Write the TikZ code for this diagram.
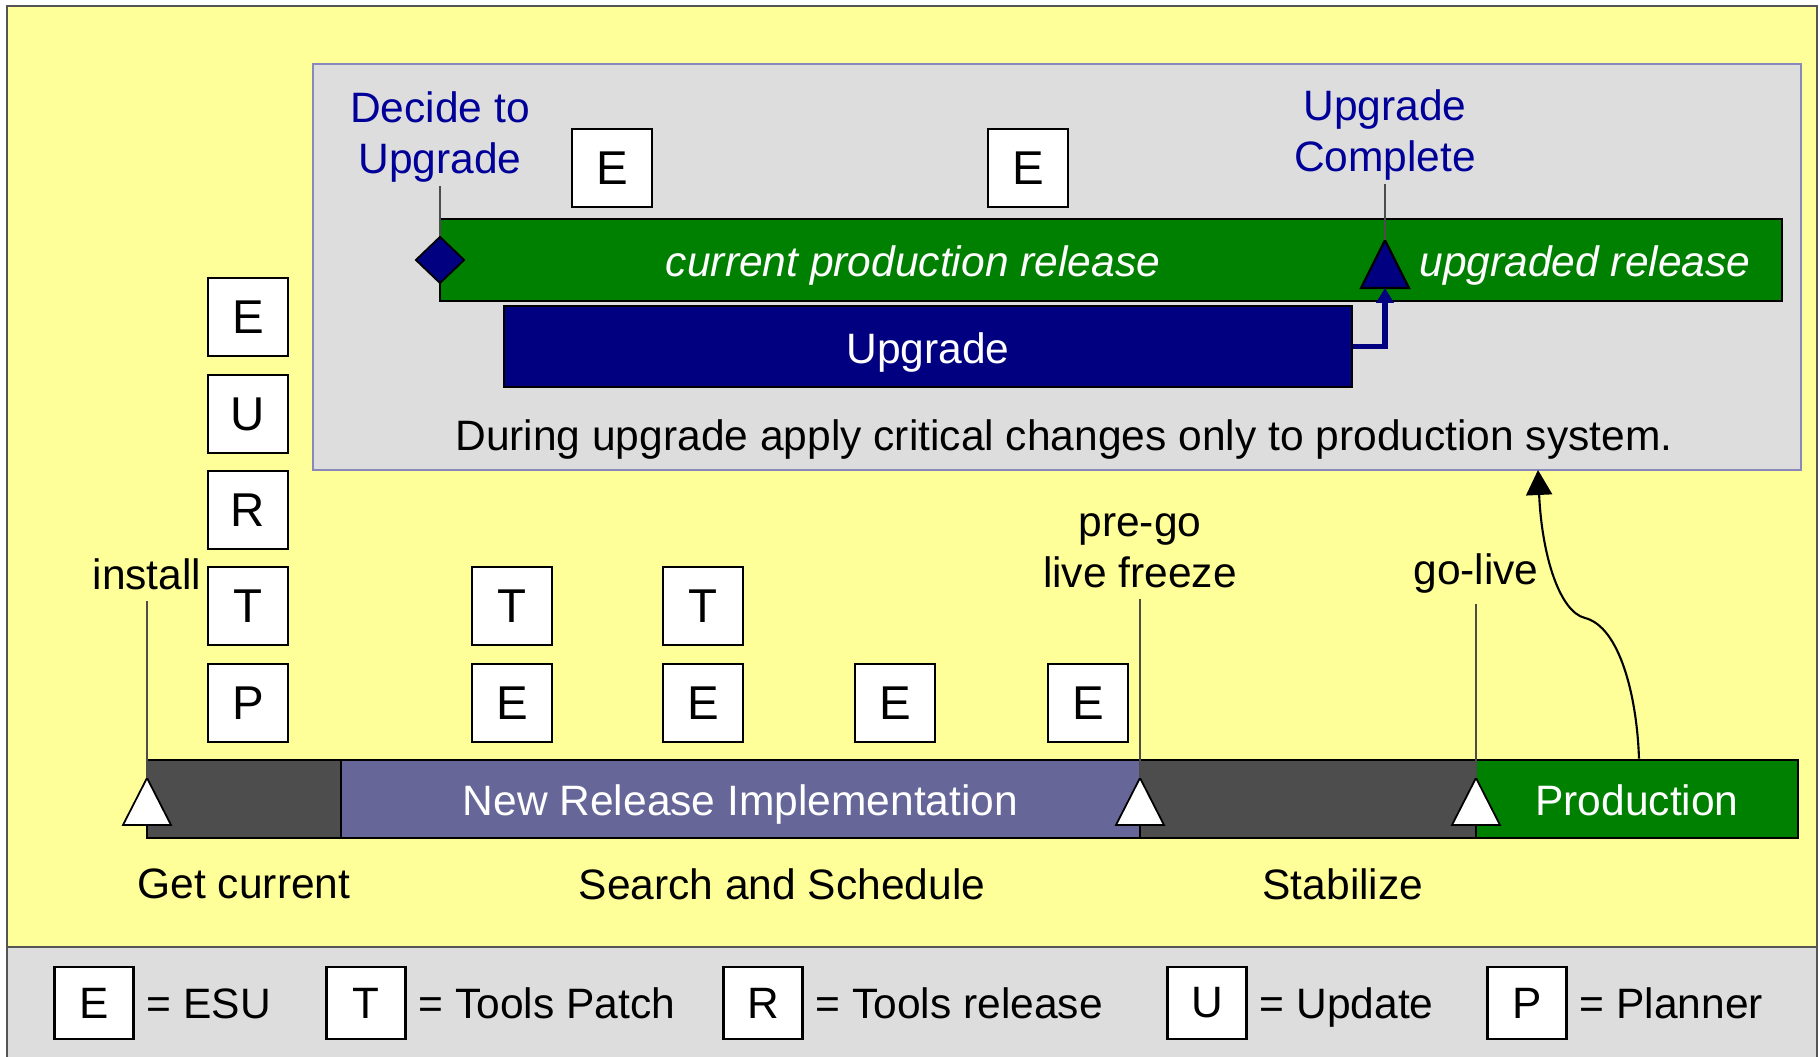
\documentclass[tikz,border=0pt]{standalone}
\usepackage{fontspec}
\setmainfont{Liberation Sans}
\usetikzlibrary{shapes.geometric,arrows.meta,positioning}

\definecolor{bgyellow}{HTML}{FFFF99}
\definecolor{panelgray}{HTML}{DDDDDD}
\definecolor{relgreen}{HTML}{008000}
\definecolor{upnavy}{HTML}{000080}
\definecolor{labelblue}{HTML}{000099}
\definecolor{phasegray}{HTML}{4D4D4D}
\definecolor{implpurple}{HTML}{666699}
\definecolor{panelframe}{HTML}{8888BB}
\definecolor{outerframe}{HTML}{555555}

\tikzset{
  patchbox/.style={draw=black, line width=0.6pt, fill=white, inner sep=0pt,
    minimum width=0.8cm, minimum height=0.78cm, font=\fontsize{13.5}{16}\selectfont},
  keybox/.style={patchbox, minimum width=0.79cm, minimum height=0.72cm,
    font=\fontsize{12.5}{15}\selectfont},
  bar/.style={draw=black, line width=0.8pt, inner sep=0pt, text=white,
    text height=0.34cm, text depth=0pt},
  bartext/.style={text=white, inner sep=0pt, text height=0.34cm, text depth=0pt,
    font=\fontsize{12.1}{14.6}\selectfont\itshape},
  keytext/.style={inner sep=0pt, text height=0.31cm, text depth=0pt},
  tick/.style={draw=black!70, line width=0.45pt},
  flag/.style={draw=black, line width=0.5pt, fill=white},
}

\begin{document}
\begin{tikzpicture}[font=\fontsize{12.1}{14.6}\selectfont]
    \useasboundingbox (0,0) rectangle (18.2,10.57);
    % background and legend strip
    \fill[bgyellow] (0.07,1.10) rectangle (18.17,10.51);
    \fill[panelgray] (0.07,0) rectangle (18.17,1.10);
    \draw[outerframe, line width=0.7pt] (0.07,0) |- (18.17,10.51) -- (18.17,0);
    \draw[outerframe, line width=0.7pt] (0.07,1.10) -- (18.17,1.10);

    % upgrade panel
    \filldraw[fill=panelgray, draw=panelframe, line width=0.5pt] (3.13,5.87) rectangle (18.01,9.93);
    \node[bar, fill=relgreen, minimum width=13.42cm, minimum height=0.82cm] (release) at (11.11,7.97) {};
    \node[bartext] (curtext) at (9.13,7.97) {current production release};
    \node[bartext] (newtext) at (15.85,7.97) {upgraded release};
    \node[bar, fill=upnavy, minimum width=8.48cm, minimum height=0.81cm] (upbar) at (9.28,7.105) {Upgrade};

    \node[diamond, draw=black, line width=0.5pt, fill=upnavy, inner sep=0pt,
          minimum width=0.49cm, minimum height=0.47cm] (decidemark) at (4.40,7.97) {};
    \node[labelblue, align=center, anchor=south, inner sep=0.03cm] (decide) at (4.40,8.71) {Decide to\\Upgrade};
    \draw[tick] (decide.south) -- (decidemark.north);

    \coordinate (doneapex) at (13.85,8.17);
    \coordinate (donebase) at (13.85,7.69);
    \filldraw[fill=upnavy, draw=black, line width=0.6pt] (doneapex) -- ++(0.24,-0.48) -- ++(-0.48,0) -- cycle;
    \node[labelblue, align=center, anchor=south, inner sep=0.03cm] (done) at (13.85,8.73) {Upgrade\\Complete};
    \draw[tick] (done.south) -- (doneapex);
    \draw[upnavy, line width=1.6pt, -{Triangle[length=0.15cm,width=0.17cm]}] (upbar.east) -| (donebase);

    \node[patchbox] (esuA) at (6.12,8.89) {E};
    \node[patchbox] (esuB) at (10.28,8.89) {E};
    \node (rule) at (10.64,6.17) {During upgrade apply critical changes only to production system.};

    % release timeline
    \node[bar, fill=phasegray, minimum width=1.94cm, minimum height=0.78cm] (getcur) at (2.44,2.58) {};
    \node[bar, fill=implpurple, minimum width=7.99cm, minimum height=0.78cm] (impl) at (7.405,2.58) {New Release Implementation};
    \node[bar, fill=phasegray, minimum width=3.36cm, minimum height=0.78cm] (stab) at (13.08,2.58) {};
    \node[bar, fill=relgreen, minimum width=3.22cm, minimum height=0.78cm] (prod) at (16.37,2.58) {Production};

    \foreach \x/\name in {1.47/install, 11.40/freeze, 14.76/golive} {
        \coordinate (\name apex) at (\x,2.79);
        \filldraw[flag] (\name apex) -- ++(0.24,-0.47) -- ++(-0.48,0) -- cycle;
    }
    \node[anchor=south, inner sep=0.1cm] (install) at (1.47,4.56) {install};
    \node[anchor=south, inner sep=0.1cm, align=center] (freeze) at (11.40,4.58) {pre-go\\live freeze};
    \node[anchor=south, inner sep=0.1cm] (golive) at (14.76,4.53) {go-live};
    \draw[tick] (install.south) -- (installapex);
    \draw[tick] (freeze.south) -- (freezeapex);
    \draw[tick] (golive.south) -- (goliveapex);

    \node (getlbl) at (2.44,1.73) {Get current};
    \node (searchlbl) at (7.82,1.73) {Search and Schedule};
    \node (stablbl) at (13.43,1.73) {Stabilize};

    % patches during the project
    \foreach \y/\letter [count=\i] in {7.40/E, 6.43/U, 5.47/R, 4.51/T, 3.54/P}
        \node[patchbox] (col\i) at (2.48,\y) {\letter};
    \node[patchbox] (toolsA) at (5.12,4.51) {T};
    \node[patchbox] (toolsB) at (7.03,4.51) {T};
    \foreach \x [count=\i] in {5.12, 7.03, 8.95, 10.88}
        \node[patchbox] (esu\i) at (\x,3.54) {E};

    \coordinate (panelfoot) at (15.38,5.87);
    \draw[line width=0.6pt, -{Triangle[length=0.25cm,width=0.26cm]}]
        ([xshift=0.02cm]prod.north) .. controls (16.37,3.6) and (16.2,4.3) .. (15.85,4.39)
        .. controls (15.6,4.45) and (15.42,5.0) .. (panelfoot);

    % legend
    \node[keybox] (keyE) at (0.94,0.54) {E};
    \node[keybox] (keyT) at (3.66,0.54) {T};
    \node[keybox] (keyR) at (7.63,0.54) {R};
    \node[keybox] (keyU) at (12.07,0.54) {U};
    \node[keybox] (keyP) at (15.27,0.54) {P};
    \node[keytext, right=0.115cm of keyE] {= ESU};
    \node[keytext, right=0.115cm of keyT] {= Tools Patch};
    \node[keytext, right=0.115cm of keyR] {= Tools release};
    \node[keytext, right=0.115cm of keyU] {= Update};
    \node[keytext, right=0.115cm of keyP] {= Planner};
\end{tikzpicture}
\end{document}
